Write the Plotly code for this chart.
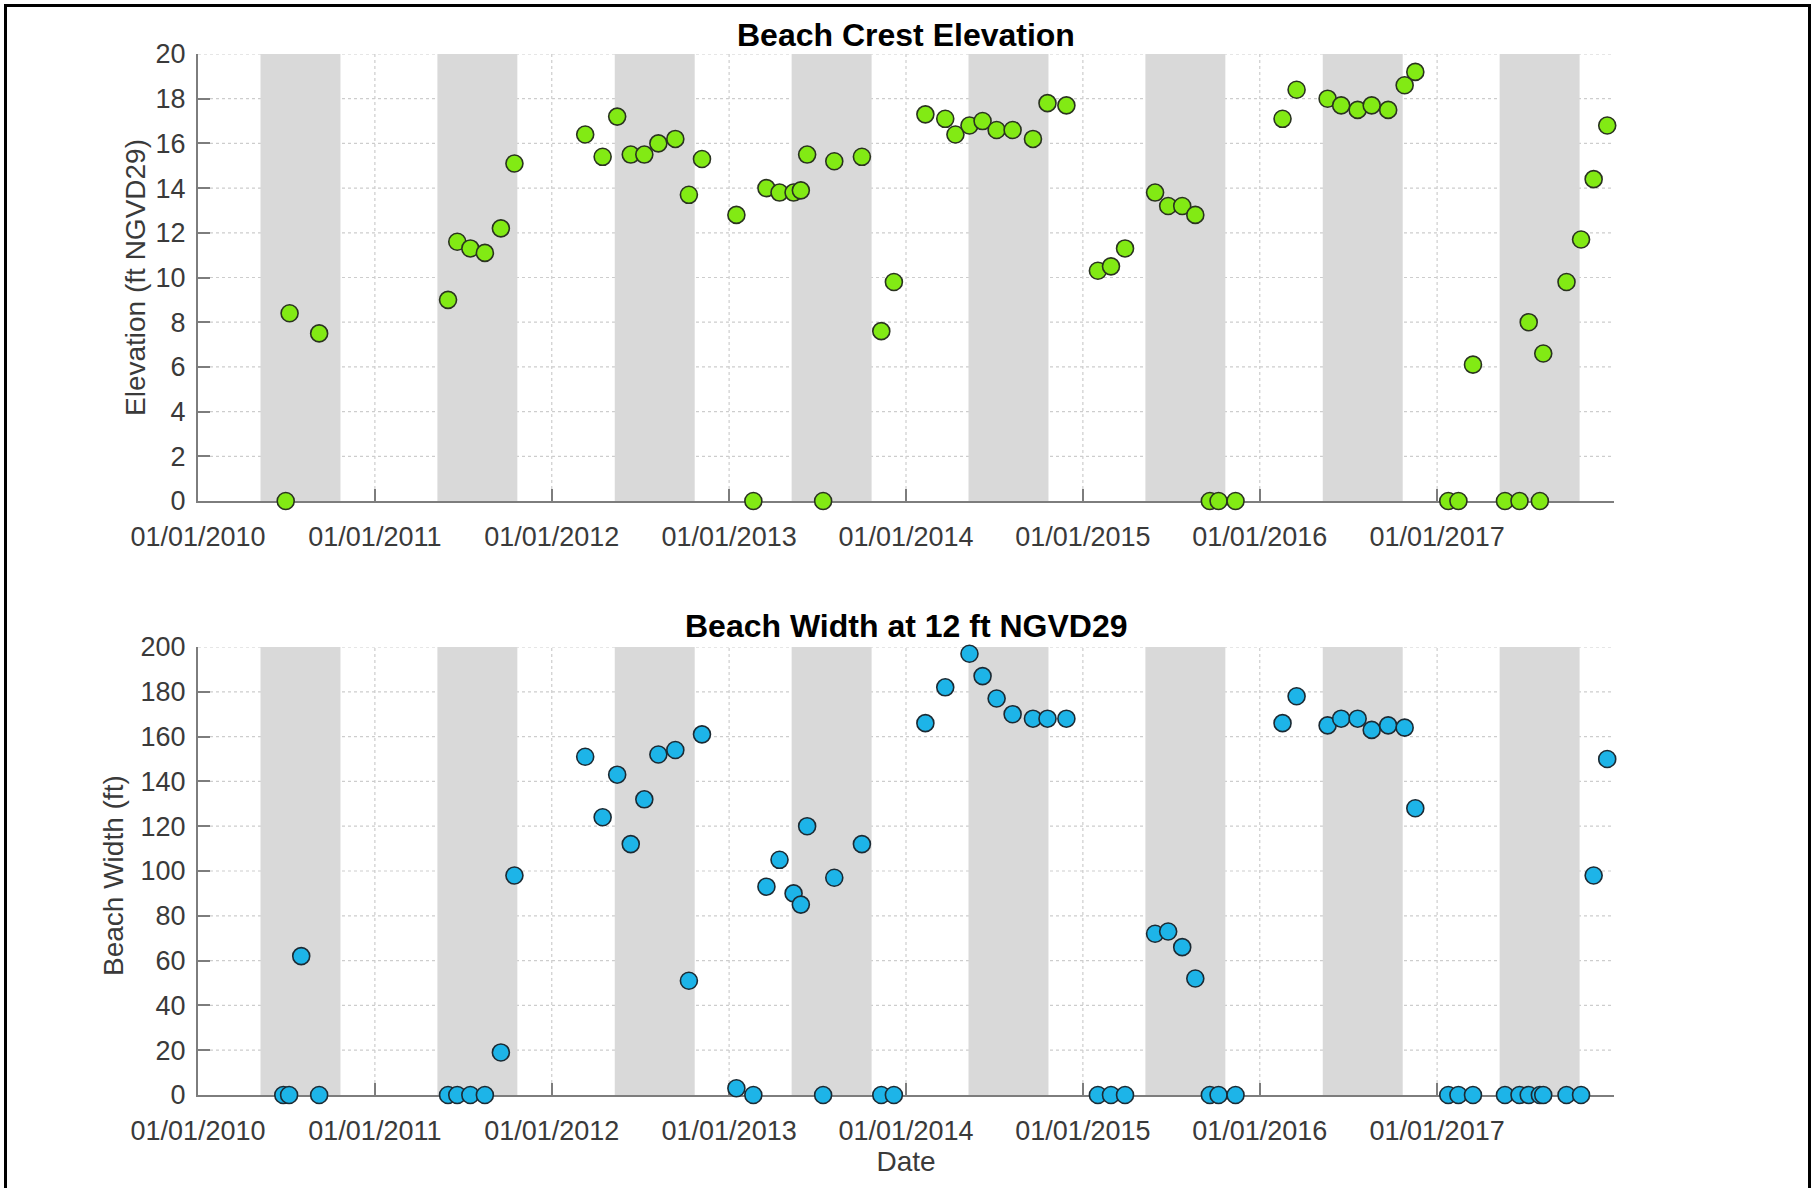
import plotly.graph_objects as go

# ---- survey data -------------------------------------------------------
crest_dates = [
    "2010-07-01", "2010-07-09", "2010-09-08",
    "2011-06-01", "2011-06-20", "2011-07-17", "2011-08-16", "2011-09-18", "2011-10-16",
    "2012-03-10", "2012-04-15", "2012-05-15", "2012-06-12", "2012-07-10", "2012-08-08",
    "2012-09-12", "2012-10-10", "2012-11-06",
    "2013-01-16", "2013-02-20", "2013-03-19", "2013-04-15", "2013-05-14", "2013-05-29",
    "2013-06-11", "2013-07-14", "2013-08-06", "2013-10-02", "2013-11-11", "2013-12-07",
    "2014-02-10", "2014-03-23", "2014-04-13", "2014-05-12", "2014-06-08", "2014-07-07",
    "2014-08-09", "2014-09-20", "2014-10-20", "2014-11-28",
    "2015-02-01", "2015-02-28", "2015-03-29", "2015-05-30", "2015-06-26", "2015-07-25",
    "2015-08-21", "2015-09-20", "2015-10-08", "2015-11-12",
    "2016-02-17", "2016-03-17", "2016-05-20", "2016-06-17", "2016-07-21", "2016-08-19",
    "2016-09-22", "2016-10-26", "2016-11-17",
    "2017-01-24", "2017-02-14", "2017-03-16", "2017-05-21", "2017-06-20", "2017-07-09",
    "2017-08-01", "2017-08-08", "2017-09-25", "2017-10-25", "2017-11-20", "2017-12-18",
]
crest_elev_ft = [
    0.0, 8.4, 7.5,
    9.0, 11.6, 11.3, 11.1, 12.2, 15.1,
    16.4, 15.4, 17.2, 15.5, 15.5, 16.0,
    16.2, 13.7, 15.3,
    12.8, 0.0, 14.0, 13.8, 13.8, 13.9,
    15.5, 0.0, 15.2, 15.4, 7.6, 9.8,
    17.3, 17.1, 16.4, 16.8, 17.0, 16.6,
    16.6, 16.2, 17.8, 17.7,
    10.3, 10.5, 11.3, 13.8, 13.2, 13.2,
    12.8, 0.0, 0.0, 0.0,
    17.1, 18.4, 18.0, 17.7, 17.5, 17.7,
    17.5, 18.6, 19.2,
    0.0, 0.0, 6.1, 0.0, 0.0, 8.0,
    0.0, 6.6, 9.8, 11.7, 14.4, 16.8,
]

width_dates = [
    "2010-06-26", "2010-07-08", "2010-08-02", "2010-09-08",
    "2011-06-01", "2011-06-20", "2011-07-17", "2011-08-16", "2011-09-18", "2011-10-16",
    "2012-03-10", "2012-04-15", "2012-05-15", "2012-06-12", "2012-07-10", "2012-08-08",
    "2012-09-12", "2012-10-10", "2012-11-06",
    "2013-01-16", "2013-02-20", "2013-03-19", "2013-04-15", "2013-05-14", "2013-05-29",
    "2013-06-11", "2013-07-14", "2013-08-06", "2013-10-02", "2013-11-11", "2013-12-07",
    "2014-02-10", "2014-03-23", "2014-05-12", "2014-06-08", "2014-07-07", "2014-08-09",
    "2014-09-20", "2014-10-20", "2014-11-28",
    "2015-02-01", "2015-02-28", "2015-03-29", "2015-05-30", "2015-06-26", "2015-07-25",
    "2015-08-21", "2015-09-20", "2015-10-08", "2015-11-12",
    "2016-02-17", "2016-03-17", "2016-05-20", "2016-06-17", "2016-07-21", "2016-08-19",
    "2016-09-22", "2016-10-26", "2016-11-17",
    "2017-01-24", "2017-02-14", "2017-03-16", "2017-05-21", "2017-06-20", "2017-07-09",
    "2017-08-01", "2017-08-08", "2017-09-25", "2017-10-25", "2017-11-20", "2017-12-18",
]
beach_width_ft = [
    0, 0, 62, 0,
    0, 0, 0, 0, 19, 98,
    151, 124, 143, 112, 132, 152,
    154, 51, 161,
    3, 0, 93, 105, 90, 85,
    120, 0, 97, 112, 0, 0,
    166, 182, 197, 187, 177, 170,
    168, 168, 168,
    0, 0, 0, 72, 73, 66,
    52, 0, 0, 0,
    166, 178, 165, 168, 168, 163,
    165, 164, 128,
    0, 0, 0, 0, 0, 0,
    0, 0, 0, 0, 98, 150,
]

# shaded seasonal window for each year
season_years = [2010, 2011, 2012, 2013, 2014, 2015, 2016, 2017]
season_start = "05-10"
season_end = "10-22"

tick_dates = ["2010-01-01", "2011-01-01", "2012-01-01", "2013-01-01",
              "2014-01-01", "2015-01-01", "2016-01-01", "2017-01-01"]
tick_labels = ["01/01/2010", "01/01/2011", "01/01/2012", "01/01/2013",
               "01/01/2014", "01/01/2015", "01/01/2016", "01/01/2017"]
elev_ticks = [0, 2, 4, 6, 8, 10, 12, 14, 16, 18, 20]
width_ticks = [0, 20, 40, 60, 80, 100, 120, 140, 160, 180, 200]

# ---- page geometry (pixels) ---------------------------------------------
W, H = 1814, 1188
ML, MR, MT, MB = 198, 200, 54, 93
PW, PH = W - ML - MR, H - MT - MB


def px_x(px):
    return (px - ML) / PW


def px_y(py):
    return (H - MB - py) / PH


FONT = "Liberation Sans, Arial, Helvetica, sans-serif"
TICK_COLOR = "#3a3a3a"
AXIS_COLOR = "#7d7d7d"
GRID_COLOR = "#cdcdcd"

fig = go.Figure()

fig.add_trace(go.Scatter(
    x=crest_dates, y=crest_elev_ft, mode="markers", xaxis="x", yaxis="y",
    marker=dict(size=17, color="#82ea14", line=dict(color="#2a3320", width=1.6)),
    cliponaxis=False, showlegend=False,
))
fig.add_trace(go.Scatter(
    x=width_dates, y=beach_width_ft, mode="markers", xaxis="x2", yaxis="y2",
    marker=dict(size=17, color="#1db4e8", line=dict(color="#1c2a33", width=1.6)),
    cliponaxis=False, showlegend=False,
))

top_dom = [px_y(501), 1.0]
bot_dom = [0.0, px_y(647)]

common_x = dict(
    type="date", range=["2010-01-01", "2018-01-01"],
    tickvals=tick_dates, ticktext=tick_labels,
    ticks="inside", ticklen=12, tickwidth=1.5, tickcolor=AXIS_COLOR,
    showline=True, linecolor=AXIS_COLOR, linewidth=2,
    showgrid=False, zeroline=False, layer="below traces",
    tickfont=dict(family=FONT, size=27, color=TICK_COLOR),
    ticklabelstandoff=11,
)
common_y = dict(
    ticks="inside", ticklen=12, tickwidth=1.5, tickcolor=AXIS_COLOR,
    showline=True, linecolor=AXIS_COLOR, linewidth=2,
    showgrid=False, zeroline=False, layer="below traces",
    tickfont=dict(family=FONT, size=27, color=TICK_COLOR),
    ticklabelstandoff=5,
)

fig.update_layout(
    width=W, height=H,
    margin=dict(l=ML, r=MR, t=MT, b=MB, autoexpand=False),
    paper_bgcolor="white", plot_bgcolor="white",
    font=dict(family=FONT, color=TICK_COLOR),
    xaxis=dict(common_x, domain=[0, 1], anchor="y"),
    yaxis=dict(common_y, domain=top_dom, anchor="x", range=[0, 20], tickvals=elev_ticks),
    xaxis2=dict(common_x, domain=[0, 1], anchor="y2",
                title=dict(text="Date", standoff=0,
                           font=dict(family=FONT, size=28, color=TICK_COLOR))),
    yaxis2=dict(common_y, domain=bot_dom, anchor="x2", range=[0, 200], tickvals=width_ticks),
)

shapes = []
# dotted grid for both panels (drawn first so the seasonal bands cover it)
for xr, yref, yt in (("x", "y", elev_ticks), ("x2", "y2", width_ticks)):
    for v in yt[1:]:
        shapes.append(dict(type="line", xref=f"{xr} domain", yref=yref,
                           x0=0, x1=1, y0=v, y1=v, layer="below",
                           line=dict(color=GRID_COLOR, width=1.2, dash="dot")))
    for d in tick_dates[1:]:
        shapes.append(dict(type="line", xref=xr, yref=f"{yref} domain",
                           x0=d, x1=d, y0=0, y1=1, layer="below",
                           line=dict(color=GRID_COLOR, width=1.2, dash="dot")))
# seasonal shading beneath the markers
for yr in season_years:
    for xr, yref in (("x", "y domain"), ("x2", "y2 domain")):
        shapes.append(dict(
            type="rect", xref=xr, yref=yref,
            x0=f"{yr}-{season_start}", x1=f"{yr}-{season_end}", y0=0, y1=1,
            fillcolor="#d9d9d9", line=dict(width=0), layer="below",
        ))
# outer frame
shapes.append(dict(
    type="rect", xref="paper", yref="paper",
    x0=px_x(5.5), x1=px_x(1809.5), y0=px_y(1230), y1=px_y(5.5),
    line=dict(color="black", width=3), fillcolor="rgba(0,0,0,0)", layer="above",
))
fig.update_layout(shapes=shapes)

# panel titles
fig.add_annotation(text="<b>Beach Crest Elevation</b>", xref="paper", yref="paper",
                   x=0.5, y=px_y(35), xanchor="center", yanchor="middle",
                   showarrow=False, font=dict(family=FONT, size=32, color="black"))
fig.add_annotation(text="<b>Beach Width at 12 ft NGVD29</b>", xref="paper", yref="paper",
                   x=0.5, y=px_y(626), xanchor="center", yanchor="middle",
                   showarrow=False, font=dict(family=FONT, size=32, color="black"))
# vertical axis labels
fig.add_annotation(text="Elevation (ft NGVD29)", xref="paper", yref="paper",
                   x=px_x(135), y=px_y(278), xanchor="center", yanchor="middle",
                   textangle=-90, showarrow=False,
                   font=dict(family=FONT, size=28, color=TICK_COLOR))
fig.add_annotation(text="Beach Width (ft)", xref="paper", yref="paper",
                   x=px_x(113), y=px_y(876), xanchor="center", yanchor="middle",
                   textangle=-90, showarrow=False,
                   font=dict(family=FONT, size=28, color=TICK_COLOR))

fig.write_html("out.html")
